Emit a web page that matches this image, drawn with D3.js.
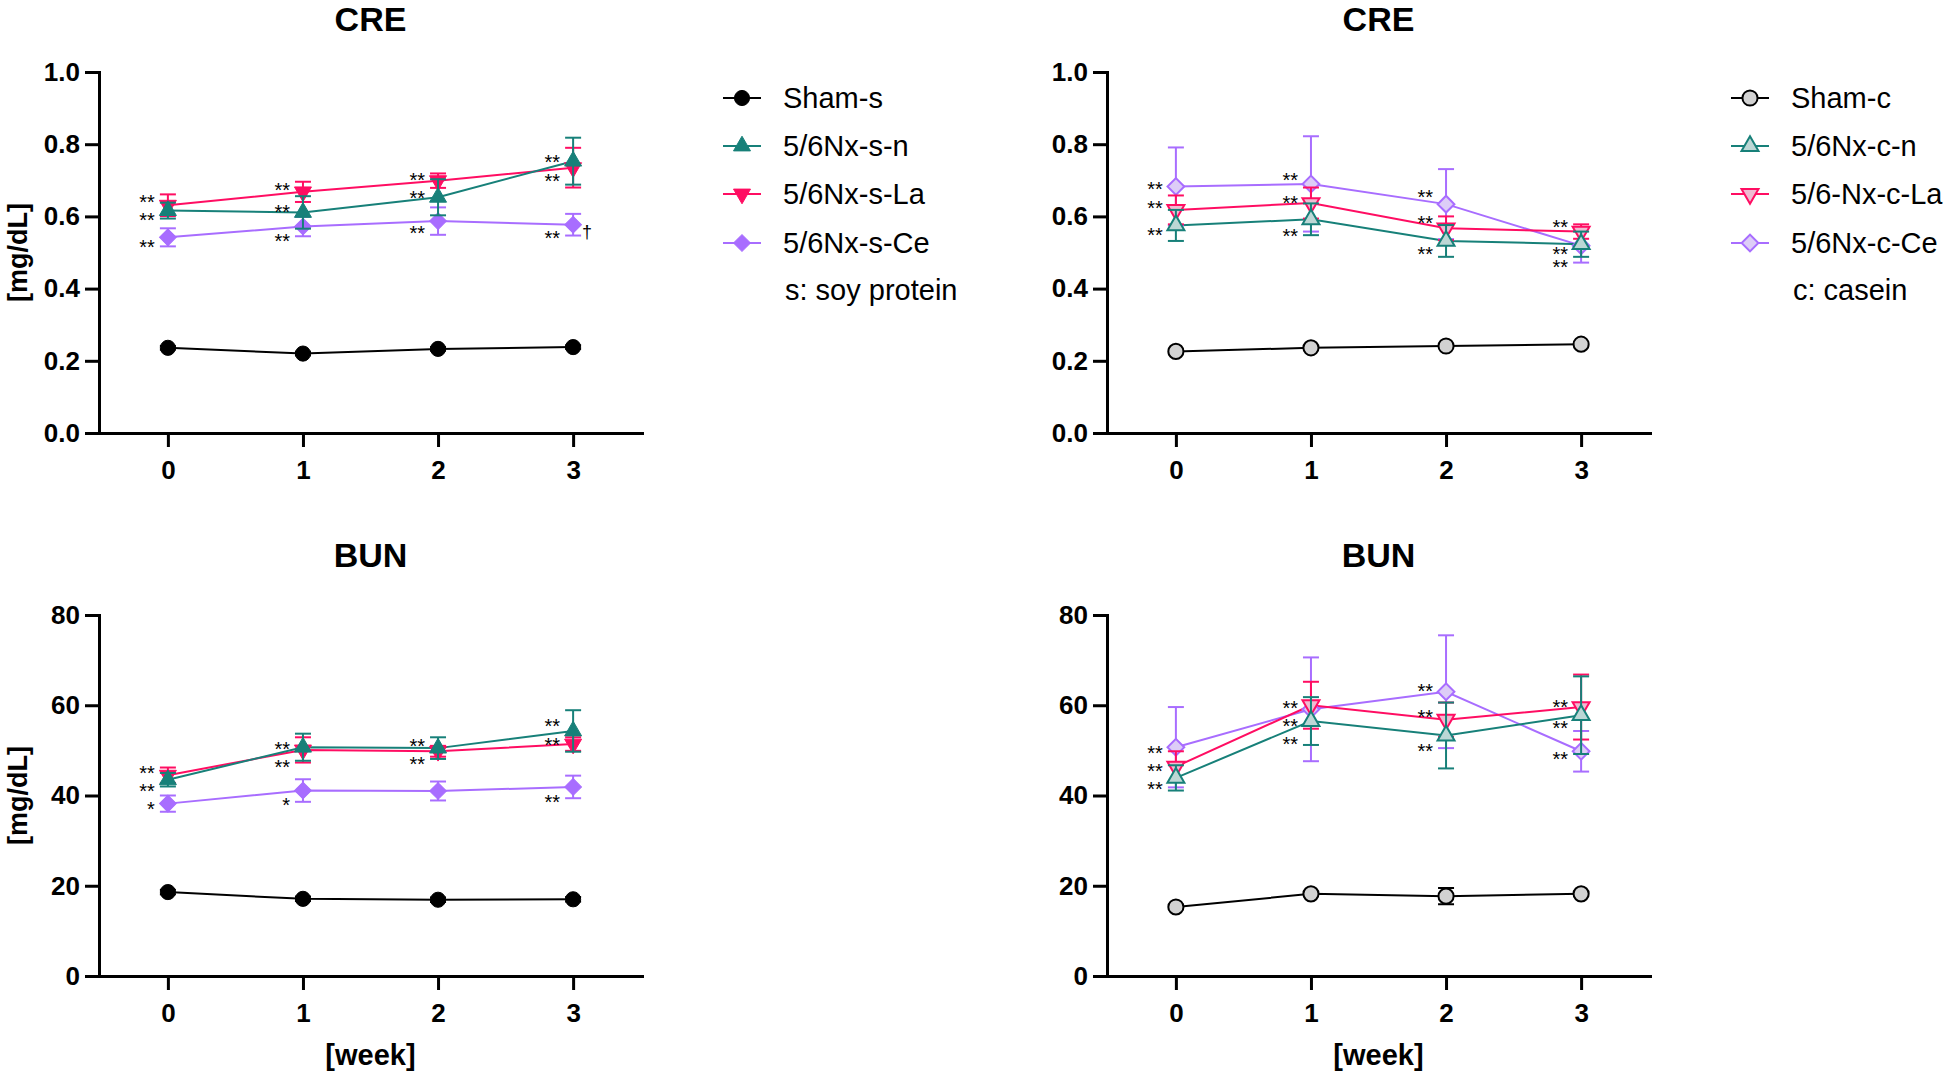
<!DOCTYPE html>
<html><head><meta charset="utf-8">
<script src="https://cdn.jsdelivr.net/npm/d3@7"></script>
<style>body{margin:0;background:#fff} svg{display:block}</style>
</head><body>
<svg id="c" width="1944" height="1071"></svg>
<script>
// ---------------- DATA ----------------
const weeks = [0, 1, 2, 3];
const weekLabels = ["0", "1", "2", "3"];
const creTicks = [0, 0.2, 0.4, 0.6, 0.8, 1.0];
const bunTicks = [0, 20, 40, 60, 80];

const soyGroups = ["Sham-s", "5/6Nx-s-n", "5/6Nx-s-La", "5/6Nx-s-Ce"];
const caseinGroups = ["Sham-c", "5/6Nx-c-n", "5/6-Nx-c-La", "5/6Nx-c-Ce"];
const soyNote = "s: soy protein";
const caseinNote = "c: casein";

// CRE, soy protein
const creShamS = [0.236, 0.220, 0.233, 0.238];
const creShamSErr = [0.005, 0.005, 0.005, 0.005];
const creNS = [0.616, 0.611, 0.653, 0.753];
const creNSErr = [0.022, 0.045, 0.05, 0.065];
const creLaS = [0.631, 0.668, 0.699, 0.735];
const creLaSErr = [0.03, 0.028, 0.02, 0.055];
const creCeS = [0.542, 0.572, 0.587, 0.577];
const creCeSErr = [0.025, 0.027, 0.038, 0.03];

// CRE, casein
const creShamC = [0.226, 0.236, 0.241, 0.246];
const creShamCErr = [0.005, 0.005, 0.005, 0.005];
const creNC = [0.575, 0.592, 0.532, 0.523];
const creNCErr = [0.043, 0.044, 0.044, 0.035];
const creLaC = [0.618, 0.637, 0.567, 0.558];
const creLaCErr = [0.04, 0.043, 0.033, 0.02];
const creCeC = [0.683, 0.690, 0.634, 0.519];
const creCeCErr = [0.108, 0.132, 0.097, 0.047];

// BUN, soy protein
const bunShamS = [18.6, 17.1, 16.9, 17.0];
const bunShamSErr = [0.5, 0.5, 0.5, 0.5];
const bunNS = [43.5, 50.7, 50.5, 54.3];
const bunNSErr = [1.5, 3.0, 2.4, 4.6];
const bunLaS = [44.5, 50.1, 49.8, 51.4];
const bunLaSErr = [1.7, 2.8, 1.2, 1.5];
const bunCeS = [38.2, 41.1, 41.0, 41.9];
const bunCeSErr = [1.8, 2.5, 2.1, 2.5];

// BUN, casein
const bunShamC = [15.3, 18.2, 17.7, 18.2];
const bunShamCErr = [0.5, 0.5, 1.8, 0.5];
const bunNC = [43.9, 56.5, 53.3, 57.8];
const bunNCErr = [2.8, 5.3, 7.3, 8.6];
const bunLaC = [46.4, 60.0, 56.8, 59.6];
const bunLaCErr = [3.4, 5.2, 3.8, 7.2];
const bunCeC = [50.7, 59.1, 63.0, 49.8];
const bunCeCErr = [8.9, 11.5, 12.5, 4.5];

// significance marks: [week, value level, text]
const creSoyMarks = [[0,0.653,"**"],[0,0.601,"**"],[0,0.528,"**"],[1,0.684,"**"],[1,0.625,"**"],[1,0.543,"**"],
  [2,0.712,"**"],[2,0.662,"**"],[2,0.567,"**"],[3,0.762,"**"],[3,0.710,"**"],[3,0.551,"**"]];
const creSoyDagger = [[3, 0.556, "†"]];
const creCasMarks = [[0,0.687,"**"],[0,0.636,"**"],[0,0.562,"**"],[1,0.712,"**"],[1,0.650,"**"],[1,0.559,"**"],
  [2,0.667,"**"],[2,0.595,"**"],[2,0.507,"**"],[3,0.583,"**"],[3,0.507,"**"],[3,0.473,"**"]];
const bunSoyMarks = [[0,45.9,"**"],[0,41.9,"**"],[0,38.0,"*"],[1,51.3,"**"],[1,47.3,"**"],[1,38.9,"*"],
  [2,52.0,"**"],[2,47.9,"**"],[3,56.4,"**"],[3,52.2,"**"],[3,39.6,"**"]];
const bunCasMarks = [[0,50.4,"**"],[0,46.4,"**"],[0,42.5,"**"],[1,60.3,"**"],[1,56.3,"**"],[1,52.3,"**"],
  [2,64.1,"**"],[2,58.3,"**"],[2,50.9,"**"],[3,60.6,"**"],[3,55.9,"**"],[3,49.1,"**"]];

// ---------------- STYLE ----------------
const FONT = '"Liberation Sans", Arial, Helvetica, sans-serif';
const groupColors = ["#000000", "#178079", "#ff0d62", "#a86dff"];
const openFills = ["#d2d2d2", "#bcd7d5", "#eebcd2", "#ddcdf7"];
const symbolKinds = ["circle", "up", "down", "diamond"];
const drawOrder = [0, 3, 2, 1];

const svg = d3.select("#c");

function markerPath(kind) {
  if (kind === "circle") return d3.symbol().type(d3.symbolCircle).size(180)();
  if (kind === "up" || kind === "down") return d3.symbol().type(d3.symbolTriangle).size(125)();
  return d3.symbol().type(d3.symbolSquare).size(140)();
}
function markerRot(kind) { return kind === "down" ? 180 : (kind === "diamond" ? 45 : 0); }

function drawMarker(g, cx, cy, i, open) {
  const kind = symbolKinds[i];
  g.append("path")
    .attr("d", markerPath(kind))
    .attr("transform", `translate(${cx},${cy}) rotate(${markerRot(kind)})`)
    .attr("fill", open ? openFills[i] : groupColors[i])
    .attr("stroke", groupColors[i])
    .attr("stroke-width", open ? 2 : 1);
}

function drawPanel(p) {
  const g = svg.append("g");
  const x = d3.scaleLinear().domain([-0.51, 3.51]).range([p.left, p.left + 543]);
  const y = d3.scaleLinear().domain([0, p.ymax]).range([p.bottom, p.top]);

  g.append("text").attr("x", p.left + 271.5).attr("y", p.titleY)
    .attr("text-anchor", "middle").attr("font-family", FONT).attr("font-weight", "bold")
    .attr("font-size", 34).text(p.title);

  const ya = g.append("g").attr("transform", `translate(${p.left},0)`)
    .call(d3.axisLeft(y).tickValues(p.yticks).tickFormat(p.fmt).tickSize(14).tickSizeOuter(0).tickPadding(5));
  const xa = g.append("g").attr("transform", `translate(0,${p.bottom})`)
    .call(d3.axisBottom(x).tickValues(weeks).tickFormat((d, i) => weekLabels[i]).tickSize(14).tickSizeOuter(0).tickPadding(14));
  [ya, xa].forEach(a => {
    a.selectAll("path, line").attr("stroke", "#000").attr("stroke-width", 3);
    a.select(".domain").attr("stroke-linecap", "square");
    a.selectAll("text").attr("font-family", FONT).attr("font-size", 26)
      .attr("font-weight", "bold").attr("fill", "#000");
  });

  if (p.ylabel) {
    g.append("text").attr("transform", `translate(${p.left - 81},${(p.top + p.bottom) / 2}) rotate(-90)`)
      .attr("text-anchor", "middle").attr("dy", "0.35em").attr("font-family", FONT)
      .attr("font-weight", "bold").attr("font-size", 27).text(p.ylabel);
  }
  if (p.xlabel) {
    g.append("text").attr("x", p.left + 271.5).attr("y", p.bottom + 89)
      .attr("text-anchor", "middle").attr("font-family", FONT)
      .attr("font-weight", "bold").attr("font-size", 29).text(p.xlabel);
  }

  const line = d3.line().x((d, i) => x(weeks[i])).y(d => y(d));
  drawOrder.forEach(i => {
    const vals = p.values[i], col = groupColors[i];
    g.append("path").attr("d", line(vals)).attr("fill", "none")
      .attr("stroke", col).attr("stroke-width", 2);
  });
  drawOrder.forEach(i => {
    const vals = p.values[i], errs = p.errors[i], col = groupColors[i];
    vals.forEach((v, k) => {
      const cx = x(weeks[k]), y1 = y(v - errs[k]), y2 = y(v + errs[k]);
      const eg = g.append("g").attr("stroke", col).attr("stroke-width", 2);
      eg.append("line").attr("x1", cx).attr("x2", cx).attr("y1", y1).attr("y2", y2);
      eg.append("line").attr("x1", cx - 8).attr("x2", cx + 8).attr("y1", y1).attr("y2", y1);
      eg.append("line").attr("x1", cx - 8).attr("x2", cx + 8).attr("y1", y2).attr("y2", y2);
    });
    vals.forEach((v, k) => drawMarker(g, x(weeks[k]), y(v), i, p.open));
  });

  p.marks.forEach(([w, v, t]) => {
    g.append("text").attr("x", x(w) - 13).attr("y", y(v) + 11.4)
      .attr("text-anchor", "end").attr("font-family", FONT).attr("font-size", 20).text(t);
  });
  (p.daggers || []).forEach(([w, v, t]) => {
    g.append("text").attr("x", x(w) + 9).attr("y", y(v) + 6)
      .attr("text-anchor", "start").attr("font-family", FONT).attr("font-size", 18).text(t);
  });

  if (p.legend) {
    const L = p.legend;
    const rows = [98, 146, 194, 243];
    L.names.forEach((name, i) => {
      const ly = rows[i];
      g.append("line").attr("x1", L.x).attr("x2", L.x + 38).attr("y1", ly).attr("y2", ly)
        .attr("stroke", groupColors[i]).attr("stroke-width", 2);
      drawMarker(g, L.x + 19, ly, i, p.open);
      g.append("text").attr("x", L.x + 60).attr("y", ly + 10).attr("font-family", FONT)
        .attr("font-size", 29).text(name);
    });
    g.append("text").attr("x", L.x + 62).attr("y", 290 + 10).attr("font-family", FONT)
      .attr("font-size", 29).text(L.note);
  }
}

const fmtCre = d3.format(".1f");
const fmtBun = d3.format("d");

drawPanel({ title: "CRE", left: 99, top: 72, bottom: 433, titleY: 31, ymax: 1.0, yticks: creTicks, fmt: fmtCre,
  ylabel: "[mg/dL]", open: false,
  values: [creShamS, creNS, creLaS, creCeS], errors: [creShamSErr, creNSErr, creLaSErr, creCeSErr],
  marks: creSoyMarks, daggers: creSoyDagger,
  legend: { x: 723, names: soyGroups, note: soyNote } });

drawPanel({ title: "CRE", left: 1107, top: 72, bottom: 433, titleY: 31, ymax: 1.0, yticks: creTicks, fmt: fmtCre,
  open: true,
  values: [creShamC, creNC, creLaC, creCeC], errors: [creShamCErr, creNCErr, creLaCErr, creCeCErr],
  marks: creCasMarks,
  legend: { x: 1731, names: caseinGroups, note: caseinNote } });

drawPanel({ title: "BUN", left: 99, top: 615, bottom: 976, titleY: 567, ymax: 80, yticks: bunTicks, fmt: fmtBun,
  ylabel: "[mg/dL]", xlabel: "[week]", open: false,
  values: [bunShamS, bunNS, bunLaS, bunCeS], errors: [bunShamSErr, bunNSErr, bunLaSErr, bunCeSErr],
  marks: bunSoyMarks });

drawPanel({ title: "BUN", left: 1107, top: 615, bottom: 976, titleY: 567, ymax: 80, yticks: bunTicks, fmt: fmtBun,
  xlabel: "[week]", open: true,
  values: [bunShamC, bunNC, bunLaC, bunCeC], errors: [bunShamCErr, bunNCErr, bunLaCErr, bunCeCErr],
  marks: bunCasMarks });
</script>
</body></html>
